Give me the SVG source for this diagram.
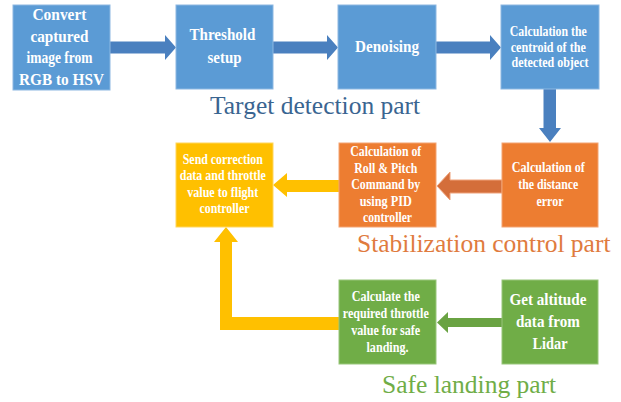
<svg xmlns="http://www.w3.org/2000/svg" width="621" height="402" viewBox="0 0 621 402">
  <style>
    .box { stroke-width: 1; }
    .blue { fill: #5B9BD5; stroke: #8DB8E2; }
    .orange { fill: #ED7D31; stroke: #F3A473; }
    .yellow { fill: #FFC000; stroke: #FFD65C; }
    .green { fill: #70AD47; stroke: #98C67A; }
    .t { font-family: "Liberation Serif", "Times New Roman", serif; font-weight: bold; fill: #FFFFFF; text-anchor: middle; }
    .big { font-size: 16.5px; }
    .small { font-size: 14px; }
    .part { font-family: "Liberation Serif", "Times New Roman", serif; font-size: 25.5px; }
  </style>

  <!-- connectors -->
  <g id="connectors">
    <!-- top row, left to right -->
    <polygon fill="#4A80BF" points="110,41.5 165,41.5 165,35 176,47.5 165,60 165,53.5 110,53.5"/>
    <polygon fill="#4A80BF" points="273,41.5 327,41.5 327,35 338,47.5 327,60 327,53.5 273,53.5"/>
    <polygon fill="#4A80BF" points="436,41.5 490,41.5 490,35 501,47.5 490,60 490,53.5 436,53.5"/>
    <!-- down to distance error -->
    <polygon fill="#4A80BF" points="543.5,89 556,89 556,128 561,128 550,142 539,128 543.5,128"/>
    <!-- orange, right to left -->
    <polygon fill="#D46E3A" stroke="#EFA27A" stroke-width="1" points="502,180 450,180 450,172 437,186 450,200 450,193 502,193"/>
    <!-- yellow, right to left -->
    <polygon fill="#FFC000" points="339,180 287,180 287,173 273,185 287,197 287,192 339,192"/>
    <!-- green, right to left -->
    <polygon fill="#6AA343" points="502,318 448,318 448,312 437,322.5 448,333 448,327 502,327"/>
    <!-- yellow elbow from throttle value up to flight controller -->
    <polygon fill="#FFC000" points="339,317 232,317 232,242 238,242 226,227 214,242 220,242 220,330 339,330"/>
  </g>

  <!-- target detection part -->
  <g id="node-convert">
    <rect class="box blue" x="13" y="5" width="97" height="85"/>
    <text class="t big">
      <tspan x="61.5" y="19.6" textLength="54" lengthAdjust="spacingAndGlyphs">Convert</tspan>
      <tspan x="61.5" y="41.6" textLength="58" lengthAdjust="spacingAndGlyphs">captured</tspan>
      <tspan x="61.5" y="62.6" textLength="66" lengthAdjust="spacingAndGlyphs">image from</tspan>
      <tspan x="61.5" y="84.6" textLength="85" lengthAdjust="spacingAndGlyphs">RGB to HSV</tspan>
    </text>
  </g>

  <g id="node-threshold">
    <rect class="box blue" x="176" y="5" width="97" height="84"/>
    <text class="t big">
      <tspan x="224.5" y="39.6" textLength="66" lengthAdjust="spacingAndGlyphs">Threshold</tspan>
      <tspan x="224.5" y="62.6" textLength="34" lengthAdjust="spacingAndGlyphs">setup</tspan>
    </text>
  </g>

  <g id="node-denoising">
    <rect class="box blue" x="338" y="5" width="98" height="84"/>
    <text class="t big">
      <tspan x="387" y="51.6" textLength="64" lengthAdjust="spacingAndGlyphs">Denoising</tspan>
    </text>
  </g>

  <g id="node-centroid">
    <rect class="box blue" x="501" y="5" width="98" height="84"/>
    <text class="t small">
      <tspan x="550" y="36" textLength="77" lengthAdjust="spacingAndGlyphs">Calculation the</tspan>
      <tspan x="550" y="51.5" textLength="75" lengthAdjust="spacingAndGlyphs">centroid of the</tspan>
      <tspan x="550" y="67" textLength="77" lengthAdjust="spacingAndGlyphs">detected object</tspan>
    </text>
  </g>

  <text id="label-target" class="part" x="210" y="114" fill="#3A6591">Target detection part</text>

  <!-- stabilization control part -->
  <g id="node-distance">
    <rect class="box orange" x="502" y="143" width="96" height="84"/>
    <text class="t small">
      <tspan x="550" y="172" textLength="73" lengthAdjust="spacingAndGlyphs">Calculation of</tspan>
      <tspan x="550" y="189" textLength="60" lengthAdjust="spacingAndGlyphs">the distance</tspan>
      <tspan x="550" y="206" textLength="27" lengthAdjust="spacingAndGlyphs">error</tspan>
    </text>
  </g>

  <g id="node-pid">
    <rect class="box orange" x="339" y="143" width="97" height="84"/>
    <text class="t small">
      <tspan x="387.5" y="156" textLength="71" lengthAdjust="spacingAndGlyphs">Calculation of</tspan>
      <tspan x="387.5" y="172.5" textLength="63" lengthAdjust="spacingAndGlyphs">Roll &amp; Pitch</tspan>
      <tspan x="387.5" y="189" textLength="69" lengthAdjust="spacingAndGlyphs">Command by</tspan>
      <tspan x="387.5" y="206" textLength="52" lengthAdjust="spacingAndGlyphs">using PID</tspan>
      <tspan x="387.5" y="222" textLength="49" lengthAdjust="spacingAndGlyphs">controller</tspan>
    </text>
  </g>

  <g id="node-send">
    <rect class="box yellow" x="176" y="143" width="97" height="84"/>
    <text class="t small">
      <tspan x="224.5" y="164" textLength="80" lengthAdjust="spacingAndGlyphs">Send correction</tspan>
      <tspan x="224.5" y="180" textLength="86" lengthAdjust="spacingAndGlyphs">data and throttle</tspan>
      <tspan x="224.5" y="197" textLength="71" lengthAdjust="spacingAndGlyphs">value to flight</tspan>
      <tspan x="224.5" y="213" textLength="50" lengthAdjust="spacingAndGlyphs">controller</tspan>
    </text>
  </g>

  <text id="label-stabilization" class="part" x="357" y="252" fill="#E07B3E">Stabilization control part</text>

  <!-- safe landing part -->
  <g id="node-throttle">
    <rect class="box green" x="339" y="280" width="97" height="84"/>
    <text class="t small">
      <tspan x="387.5" y="301" textLength="68" lengthAdjust="spacingAndGlyphs">Calculate the</tspan>
      <tspan x="387.5" y="318" textLength="86" lengthAdjust="spacingAndGlyphs">required throttle</tspan>
      <tspan x="387.5" y="335" textLength="69" lengthAdjust="spacingAndGlyphs">value for safe</tspan>
      <tspan x="387.5" y="352" textLength="42" lengthAdjust="spacingAndGlyphs">landing.</tspan>
    </text>
  </g>

  <g id="node-lidar">
    <rect class="box green" x="502" y="280" width="96" height="84"/>
    <text class="t" style="font-size:17px">
      <tspan x="550" y="305" textLength="77" lengthAdjust="spacingAndGlyphs">Get altitude</tspan>
      <tspan x="550" y="327" textLength="64" lengthAdjust="spacingAndGlyphs">data from</tspan>
      <tspan x="550" y="349" textLength="35" lengthAdjust="spacingAndGlyphs">Lidar</tspan>
    </text>
  </g>

  <text id="label-safe" class="part" x="382" y="393" fill="#70AD47">Safe landing part</text>
</svg>
